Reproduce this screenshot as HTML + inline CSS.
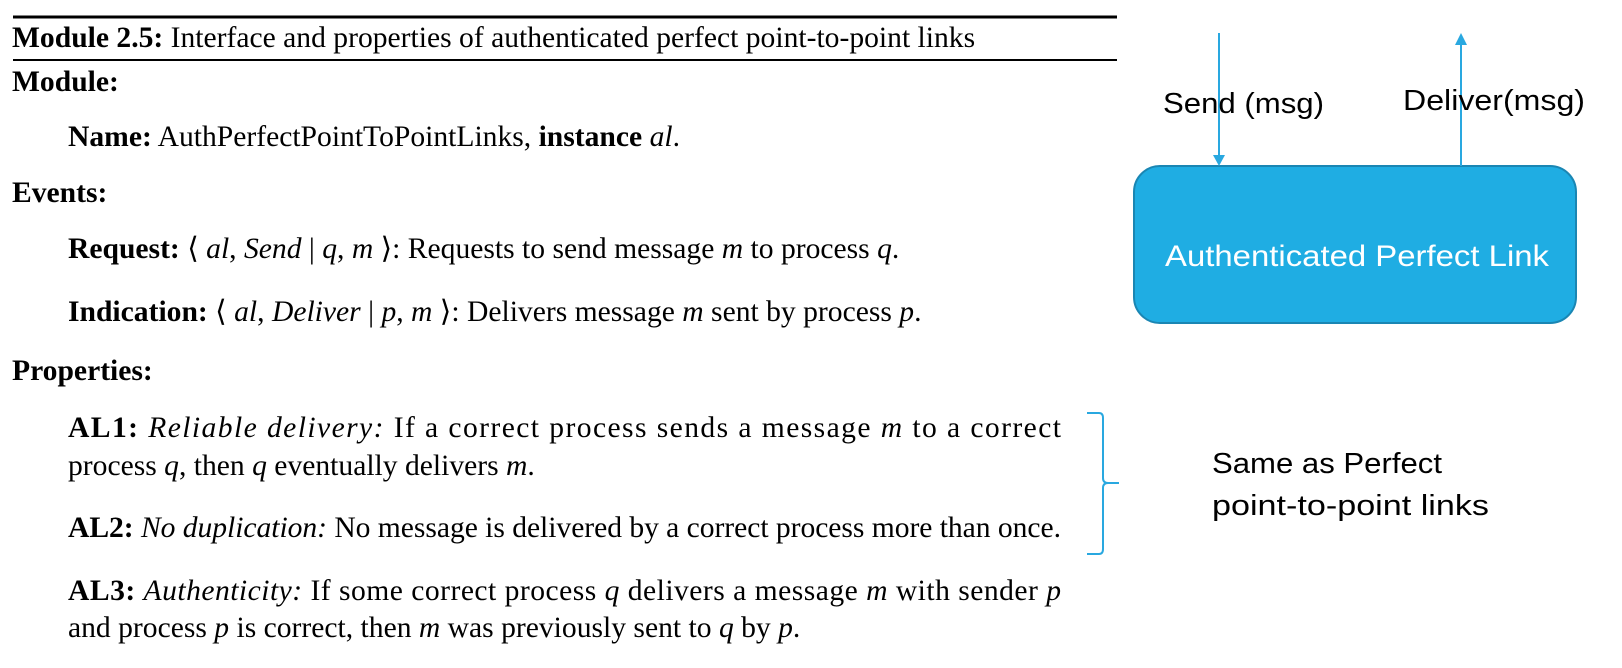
<!DOCTYPE html>
<html><head><meta charset="utf-8"><style>
html,body{margin:0;padding:0;background:#fff;width:1622px;height:668px;overflow:hidden}
svg{display:block}
.s{font-family:"Liberation Serif",serif;font-size:29.6px;fill:#000}
.b{font-weight:bold}
.i{font-style:italic}
.c{font-family:"Liberation Sans",sans-serif}
</style></head><body>
<svg width="1622" height="668" viewBox="0 0 1622 668" xmlns="http://www.w3.org/2000/svg">
<line x1="13" y1="17" x2="1117" y2="17" stroke="#000" stroke-width="3"/>
<line x1="13" y1="60" x2="1117" y2="60" stroke="#000" stroke-width="2"/>
<text class="s" x="12" y="47"><tspan class="b">Module 2.5:</tspan> Interface and properties of authenticated perfect point-to-point links</text>
<text class="s b" x="12" y="91">Module:</text>
<text class="s" x="68" y="146"><tspan class="b">Name:</tspan> AuthPerfectPointToPointLinks, <tspan class="b">instance</tspan> <tspan class="i">al</tspan>.</text>
<text class="s b" x="12" y="202">Events:</text>
<text class="s" x="68" y="258"><tspan class="b">Request:</tspan> ⟨ <tspan class="i">al</tspan>, <tspan class="i">Send</tspan> | <tspan class="i">q</tspan>, <tspan class="i">m</tspan> ⟩: Requests to send message <tspan class="i">m</tspan> to process <tspan class="i">q</tspan>.</text>
<text class="s" x="68" y="321"><tspan class="b">Indication:</tspan> ⟨ <tspan class="i">al</tspan>, <tspan class="i">Deliver</tspan> | <tspan class="i">p</tspan>, <tspan class="i">m</tspan> ⟩: Delivers message <tspan class="i">m</tspan> sent by process <tspan class="i">p</tspan>.</text>
<text class="s b" x="12" y="380">Properties:</text>
<text class="s" x="68" y="437" textLength="993" lengthAdjust="spacing"><tspan class="b">AL1:</tspan> <tspan class="i">Reliable delivery:</tspan> If a correct process sends a message <tspan class="i">m</tspan> to a correct</text>
<text class="s" x="68" y="475">process <tspan class="i">q</tspan>, then <tspan class="i">q</tspan> eventually delivers <tspan class="i">m</tspan>.</text>
<text class="s" x="68" y="537" textLength="993" lengthAdjust="spacing"><tspan class="b">AL2:</tspan> <tspan class="i">No duplication:</tspan> No message is delivered by a correct process more than once.</text>
<text class="s" x="68" y="600" textLength="993" lengthAdjust="spacing"><tspan class="b">AL3:</tspan> <tspan class="i">Authenticity:</tspan> If some correct process <tspan class="i">q</tspan> delivers a message <tspan class="i">m</tspan> with sender <tspan class="i">p</tspan></text>
<text class="s" x="68" y="637">and process <tspan class="i">p</tspan> is correct, then <tspan class="i">m</tspan> was previously sent to <tspan class="i">q</tspan> by <tspan class="i">p</tspan>.</text>

<rect x="1134" y="166" width="442" height="157" rx="26" ry="26" fill="#1fade3" stroke="#1a86b3" stroke-width="2"/>
<text class="c" x="1165" y="266" font-size="30" fill="#fff" textLength="384" lengthAdjust="spacingAndGlyphs">Authenticated Perfect Link</text>
<line x1="1219" y1="33" x2="1219" y2="156" stroke="#29a8e0" stroke-width="2"/>
<polygon points="1213,155 1225,155 1219,166" fill="#29a8e0"/>
<line x1="1461" y1="44" x2="1461" y2="166" stroke="#29a8e0" stroke-width="2"/>
<polygon points="1455,45 1467,45 1461,33" fill="#29a8e0"/>
<text class="c" x="1163" y="113" font-size="29" fill="#000" textLength="161" lengthAdjust="spacingAndGlyphs">Send (msg)</text>
<text class="c" x="1403" y="110" font-size="29" fill="#000" textLength="182" lengthAdjust="spacingAndGlyphs">Deliver(msg)</text>

<path d="M1087,413 L1099,413 Q1103,413 1103,418 L1103,478 Q1103,483 1108,483 L1119,483 M1108,483 Q1103,483 1103,488 L1103,549 Q1103,554 1099,554 L1087,554" fill="none" stroke="#29a8e0" stroke-width="2"/>
<text class="c" x="1212" y="473" font-size="29" fill="#000" textLength="230" lengthAdjust="spacingAndGlyphs">Same as Perfect</text>
<text class="c" x="1212" y="515" font-size="29" fill="#000" textLength="277" lengthAdjust="spacingAndGlyphs">point-to-point links</text>
</svg>
</body></html>
